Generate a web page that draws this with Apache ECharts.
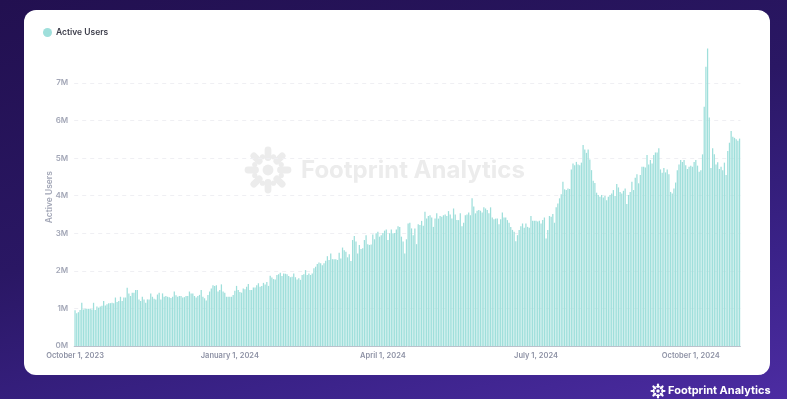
<!DOCTYPE html>
<html>
<head>
<meta charset="utf-8">
<script src="https://cdn.jsdelivr.net/npm/echarts@6/dist/echarts.min.js"></script>
<style>
  html, body { margin: 0; padding: 0; width: 787px; height: 399px; overflow: hidden; }
  body {
    position: relative;
    background: linear-gradient(165deg, #221050 0%, #2a1764 45%, #3a2288 75%, #4c2ca2 100%);
    font-family: Inter, "Noto Sans", sans-serif;
  }
  #card { position: absolute; left: 24px; top: 10px; width: 746px; height: 365px; background: #fff; border-radius: 12px; }
  #chart { position: absolute; left: 0; top: 0; width: 787px; height: 399px; }
</style>
</head>
<body>
<div id="card"></div>
<div id="chart"></div>
<script>
// daily active users, millions, from 2023-10-01
const oct_dec_2023 = [
  0.95, 0.87, 0.90, 0.96, 1.15, 0.97, 0.99, 0.99, 0.99, 0.99,
  0.97, 1.15, 0.96, 1.05, 1.02, 1.05, 1.07, 1.20, 1.08, 1.11,
  1.14, 1.14, 1.15, 1.14, 1.29, 1.17, 1.20, 1.31, 1.20, 1.29,
  1.29, 1.55, 1.40, 1.33, 1.42, 1.42, 1.49, 1.49, 1.24, 1.20,
  1.31, 1.24, 1.15, 1.24, 1.24, 1.40, 1.31, 1.26, 1.24, 1.37,
  1.42, 1.24, 1.40, 1.31, 1.33, 1.31, 1.30, 1.28, 1.31, 1.45,
  1.35, 1.31, 1.33, 1.33, 1.29, 1.30, 1.33, 1.33, 1.45, 1.40,
  1.40, 1.33, 1.29, 1.33, 1.36, 1.49, 1.31, 1.27, 1.21, 1.36,
  1.45, 1.53, 1.62, 1.60, 1.62, 1.45, 1.49, 1.64, 1.45, 1.42,
  1.31, 1.31
]
const jan_mar_2024 = [
  1.31, 1.31, 1.36, 1.47, 1.60, 1.49, 1.44, 1.42,
  1.53, 1.51, 1.58, 1.65, 1.49, 1.49, 1.56, 1.56, 1.62, 1.67,
  1.58, 1.60, 1.68, 1.64, 1.70, 1.60, 1.87, 1.82, 1.78, 1.77,
  1.89, 1.91, 1.95, 1.86, 1.93, 1.92, 1.91, 1.86, 1.83, 1.84,
  1.93, 1.83, 1.77, 1.80, 1.76, 1.89, 1.91, 2.02, 1.89, 1.93,
  1.89, 1.93, 2.07, 2.11, 2.18, 2.22, 2.20, 2.15, 2.20, 2.27,
  2.39, 2.29, 2.46, 2.31, 2.31, 2.31, 2.29, 2.48, 2.33, 2.62,
  2.55, 2.51, 2.36, 2.44, 2.26, 2.82, 2.93, 2.78, 2.46, 2.69,
  2.58, 2.60, 2.82, 2.95, 2.71, 2.69, 2.70, 2.97, 2.84, 3.00,
  3.04, 2.91, 2.95
]
const apr_jun_2024 = [
  3.01, 3.07, 3.10, 2.82, 3.00, 3.10, 3.00,
  3.01, 3.10, 3.19, 3.17, 2.91, 2.78, 2.46, 2.84, 3.26, 3.28,
  3.13, 2.95, 3.13, 2.71, 3.24, 3.22, 3.33, 3.20, 3.57, 3.39,
  3.46, 3.48, 3.42, 3.17, 3.39, 3.53, 3.39, 3.46, 3.44, 3.48,
  3.50, 3.46, 3.59, 3.50, 3.39, 3.66, 3.50, 3.35, 3.35, 3.53,
  3.19, 3.28, 3.48, 3.50, 3.55, 3.48, 3.93, 3.71, 3.53, 3.60,
  3.62, 3.60, 3.55, 3.69, 3.66, 3.62, 3.53, 3.69, 3.42, 3.37,
  3.39, 3.39, 3.24, 3.37, 3.55, 3.42, 3.42, 3.35, 3.28, 3.17,
  3.09, 3.04, 2.79, 2.95, 3.09, 3.19, 3.26, 3.15, 3.26, 3.17,
  3.15, 3.46, 3.33, 3.33
]
const jul_sep_2024 = [
  3.33, 3.31, 3.33, 3.26, 3.35, 3.42,
  2.86, 3.09, 3.46, 3.44, 3.51, 3.28, 3.69, 3.79, 3.93, 4.04,
  4.37, 4.17, 4.15, 4.19, 4.18, 4.70, 4.86, 4.81, 4.90, 4.83,
  4.81, 4.88, 5.35, 5.23, 5.14, 5.23, 4.96, 4.68, 4.40, 4.34,
  4.08, 4.02, 3.97, 4.02, 3.95, 3.99, 3.88, 3.97, 4.02, 4.06,
  4.15, 3.99, 4.31, 4.22, 4.10, 4.06, 4.13, 4.19, 3.78, 4.02,
  4.10, 4.37, 4.15, 4.48, 4.57, 4.33, 4.55, 4.77, 4.77, 4.75,
  5.08, 4.83, 4.95, 4.86, 5.08, 5.15, 5.15, 5.26, 4.70, 4.61,
  4.74, 4.62, 4.70, 4.57, 4.10, 4.06, 4.19, 4.35, 4.68, 4.83,
  4.95, 4.90, 4.95, 4.81, 4.71, 4.77
]
const oct_2024 = [
  4.80, 4.77, 4.90, 4.95,
  4.80, 4.64, 4.68, 5.10, 6.37, 7.43, 7.92, 6.08, 4.74, 5.26,
  5.10, 4.83, 4.89, 4.71, 4.77, 4.68, 4.88, 4.55, 5.19, 5.41,
  5.72, 5.57, 5.54, 5.50, 5.46, 5.52
]
const labelDays = ['2023-10-01', '2024-01-01', '2024-04-01', '2024-07-01', '2024-10-01']
const monthNames = ['January', 'February', 'March', 'April', 'May', 'June', 'July',
  'August', 'September', 'October', 'November', 'December']

const activeUsers = [...oct_dec_2023, ...jan_mar_2024, ...apr_jun_2024, ...jul_sep_2024, ...oct_2024]
const days = activeUsers.map((_, i) => new Date(Date.UTC(2023, 9, 1 + i)).toISOString().slice(0, 10))
const last = days.length - 1

const fmtDay = (s) => {
  const [y, m, d] = s.split('-')
  return monthNames[+m - 1] + ' ' + (+d) + ', ' + y
}

// little sunburst logo
const logo = (cx, cy, s, color) => {
  const children = [{ type: 'circle', shape: { cx: 0, cy: 0, r: 4.2 * s }, style: { fill: color } }]
  for (let k = 0; k < 8; k++) {
    const a = (k * Math.PI) / 4
    children.push({
      type: 'rect', rotation: -a,
      shape: { x: 7 * s, y: -2.6 * s, width: 11 * s, height: 5.2 * s, r: 2.6 * s },
      style: { fill: color }
    })
    const b = a + Math.PI / 8
    children.push({
      type: 'circle',
      shape: { cx: Math.cos(b) * 11 * s, cy: -Math.sin(b) * 11 * s, r: 2 * s },
      style: { fill: color }
    })
  }
  return { type: 'group', x: cx, y: cy, silent: true, children }
}

const axisGray = '#a3a7b7'
const chart = echarts.init(document.getElementById('chart'))
chart.setOption({
  animation: false,
  textStyle: { fontFamily: 'Inter, "Noto Sans", sans-serif' },
  legend: {
    left: 38, top: 23, icon: 'circle', itemWidth: 9, itemHeight: 9, itemGap: 4,
    textStyle: { color: '#3c3d4a', fontSize: 8.5, fontWeight: 600, padding: [0, 0, 0, -1] },
    data: ['Active Users']
  },
  grid: { left: 74.2, right: 46.6, top: 48.4, bottom: 53, outerBoundsMode: 'none' },
  xAxis: {
    type: 'category',
    data: days,
    axisLine: { lineStyle: { color: '#bcc1cc' } },
    axisTick: { length: 4, lineStyle: { color: '#bcc1cc' }, interval: (i) => i === 0 || i >= last },
    axisLabel: {
      interval: (i, v) => labelDays.includes(v),
      formatter: fmtDay,
      color: '#8e92a5', fontSize: 7.5, fontWeight: 600, margin: 6
    },
    splitLine: { show: false }
  },
  yAxis: {
    type: 'value',
    min: 0, max: 'dataMax', interval: 1,
    name: 'Active Users', nameLocation: 'middle', nameGap: 20, nameMoveOverlap: false,
    nameTextStyle: { color: axisGray, fontSize: 8.5, fontWeight: 600 },
    axisLabel: {
      color: axisGray, fontSize: 8, fontWeight: 600, margin: 6, showMaxLabel: false,
      formatter: (v) => (Number.isInteger(v) ? v + 'M' : '')
    },
    splitLine: { showMaxLine: false, lineStyle: { color: '#efeff3', type: [4, 4] } }
  },
  series: [{
    name: 'Active Users',
    type: 'bar',
    data: activeUsers,
    barCategoryGap: '25%',
    itemStyle: { color: '#9fdfdb' }
  }],
  graphic: [
    logo(268, 170, 1.3, '#ececec'),
    {
      type: 'text', x: 301, y: 171, silent: true,
      style: { text: 'Footprint Analytics', fill: '#ececec', font: 'bold 24px Inter, sans-serif', verticalAlign: 'middle' }
    },
    logo(658, 391, 0.42, '#ffffff'),
    {
      type: 'text', x: 668, y: 391, silent: true,
      style: { text: 'Footprint Analytics', fill: '#ffffff', font: 'bold 11px Inter, sans-serif', verticalAlign: 'middle' }
    }
  ]
})
</script>
</body>
</html>
